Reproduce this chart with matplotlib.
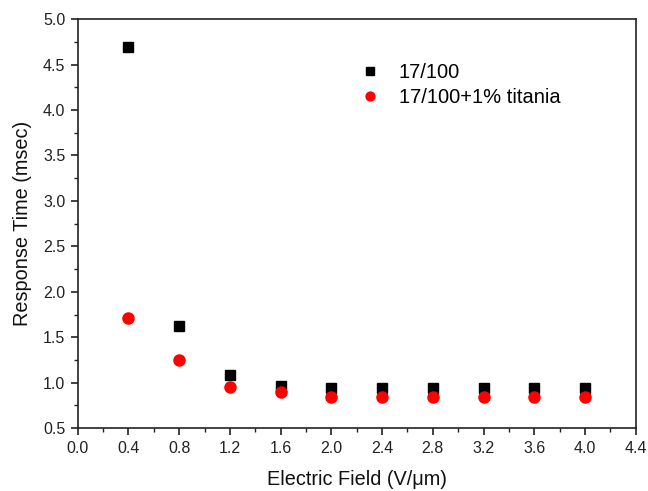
import matplotlib
matplotlib.use("Agg")
import matplotlib.pyplot as plt
from matplotlib.ticker import MultipleLocator, FormatStrFormatter

field = [0.4, 0.8, 1.2, 1.6, 2.0, 2.4, 2.8, 3.2, 3.6, 4.0]
resp_plain = [4.69, 1.62, 1.08, 0.96, 0.94, 0.94, 0.94, 0.94, 0.94, 0.94]
resp_titania = [1.71, 1.25, 0.95, 0.90, 0.84, 0.84, 0.84, 0.84, 0.84, 0.84]

plt.rcParams['font.family'] = ['Liberation Sans', 'DejaVu Sans']

fig = plt.figure(figsize=(6.48, 4.91), dpi=100)
ax = fig.add_axes([0.120, 0.128, 0.861, 0.833])

ax.plot(field, resp_plain, 's', color='black', markersize=7, label='17/100', linestyle='none')
ax.plot(field, resp_titania, 'o', color='red', markersize=8, label='17/100+1% titania', linestyle='none')

ax.set_xlim(0.0, 4.4)
ax.set_ylim(0.5, 5.0)
ax.xaxis.set_major_locator(MultipleLocator(0.4))
ax.xaxis.set_minor_locator(MultipleLocator(0.2))
ax.yaxis.set_major_locator(MultipleLocator(0.5))
ax.yaxis.set_minor_locator(MultipleLocator(0.25))
ax.xaxis.set_major_formatter(FormatStrFormatter('%.1f'))
ax.yaxis.set_major_formatter(FormatStrFormatter('%.1f'))
ax.tick_params(which='major', direction='out', length=5, width=1.2, labelsize=11.5,
               colors='#222222', pad=4)
ax.tick_params(which='minor', direction='out', length=3, width=1.0, colors='#222222')
for s in ax.spines.values():
    s.set_linewidth(1.2)
    s.set_color('#222222')

ax.set_xlabel('Electric Field (V/\u03bcm)', fontsize=14.3, labelpad=10, color='#111111')
ax.set_ylabel('Response Time (msec)', fontsize=14.3, labelpad=8, color='#111111')

ax.legend(loc='upper left', bbox_to_anchor=(0.487, 0.917), frameon=False, fontsize=14.5,
          handlelength=1.0, handletextpad=0.95, labelspacing=0.3, borderpad=0,
          markerscale=0.8)

fig.savefig('out.png', dpi=100)
